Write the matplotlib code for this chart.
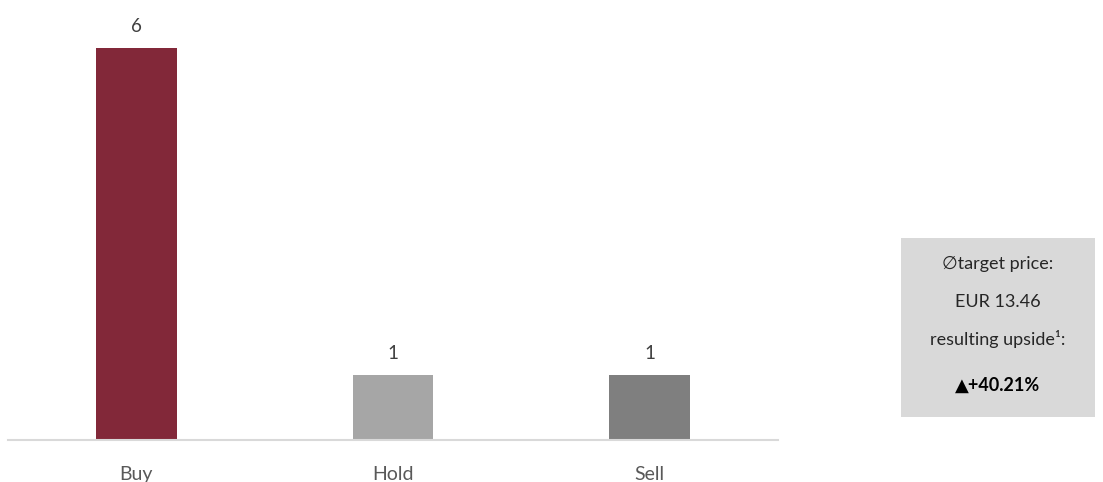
import matplotlib
matplotlib.use("Agg")
import matplotlib.pyplot as plt
from matplotlib.patches import Rectangle

categories = ["Buy", "Hold", "Sell"]
counts = [6, 1, 1]
bar_colors = ["#822839", "#a6a6a6", "#7f7f7f"]
box_lines = ["\u2205target price:", "EUR 13.46", "resulting upside\u00b9:", "\u25b2+40.21%"]

plt.rcParams['font.family'] = ['Lato', 'DejaVu Sans']

W, H = 1103, 482
fig = plt.figure(figsize=(W / 100, H / 100), dpi=100)
ax = fig.add_axes([8 / W, 42 / H, 770 / W, 440 / H])

x = list(range(len(categories)))
ax.bar(x, counts, width=0.315, color=bar_colors, zorder=2)
ax.set_xlim(-0.5, len(categories) - 0.5)
ax.set_ylim(0, 6 * 440 / 392)

for xi, v in zip(x, counts):
    ax.text(xi, v + 0.2, str(v), ha="center", va="bottom", fontsize=13.5, color="#404040")

for s in ["top", "left", "right"]:
    ax.spines[s].set_visible(False)
ax.spines["bottom"].set_color("#d9d9d9")
ax.spines["bottom"].set_linewidth(1.5)
ax.set_yticks([])
ax.set_xticks(x)
ax.set_xticklabels(categories, fontsize=14, color="#595959")
ax.tick_params(axis="x", length=0, pad=19)

# info box
bx0, by0, bx1, by1 = 901, 238, 1095, 417
fig.patches.append(Rectangle((bx0 / W, 1 - by1 / H), (bx1 - bx0) / W, (by1 - by0) / H,
                             transform=fig.transFigure, facecolor="#d9d9d9", edgecolor="none"))
cx = (bx0 + bx1) / 2 / W
ys = [264, 302, 339, 385]
for i, (t, y) in enumerate(zip(box_lines, ys)):
    fig.text(cx, 1 - y / H, t, ha="center", va="center", fontsize=13,
             color="#262626" if i < 3 else "#000000",
             fontweight="bold" if i == 3 else "normal")

fig.savefig("out.png", dpi=100)
